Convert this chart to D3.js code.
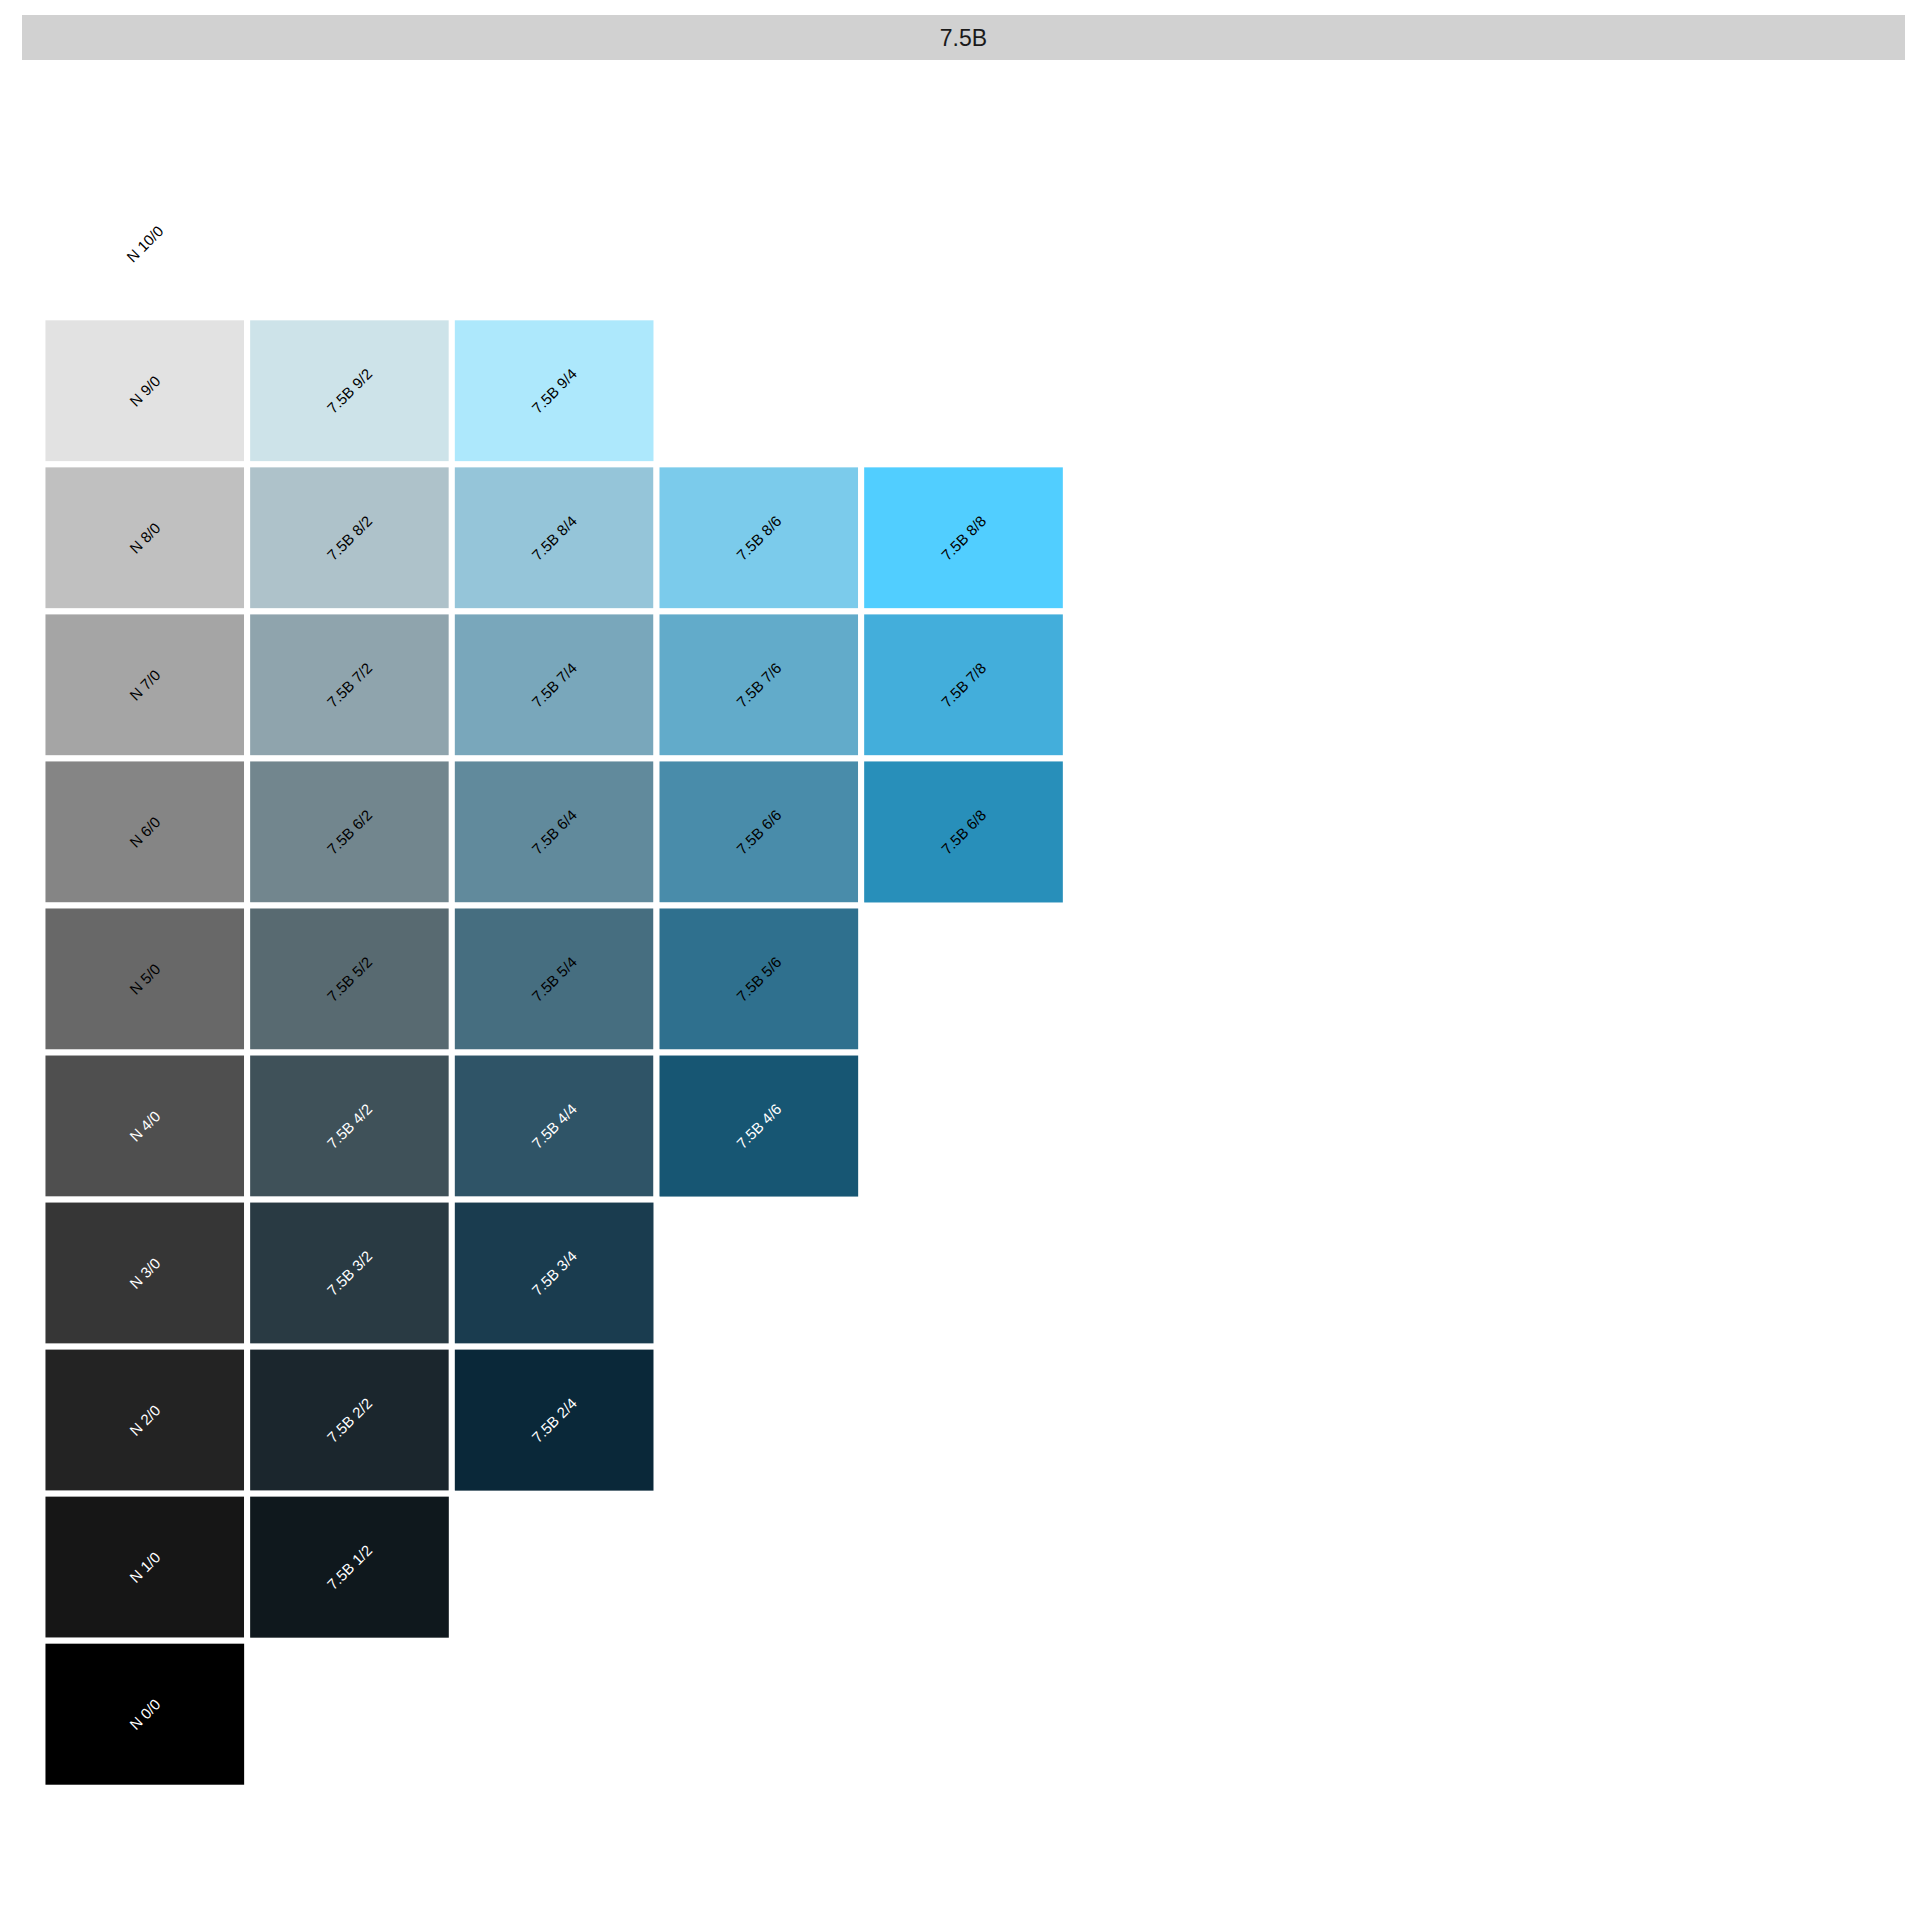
<!DOCTYPE html>
<html>
<head>
<meta charset="utf-8">
<script src="https://cdn.jsdelivr.net/npm/d3@7"></script>
<style>
  html, body { margin: 0; padding: 0; background: #ffffff; }
  svg { display: block; }
</style>
</head>
<body>
<svg id="chart" width="1920" height="1920"></svg>
<script>
// ---- data ----
const hueLabel = "7.5B";
const chromaLevels = [0, 2, 4, 6, 8, 10, 12, 14, 16];
const valueLevels = [10, 9, 8, 7, 6, 5, 4, 3, 2, 1, 0];

const swatchValues  = [10, 9, 9, 9, 8, 8, 8, 8, 8, 7, 7, 7, 7, 7, 6, 6, 6, 6, 6, 5, 5, 5, 5, 4, 4, 4, 4, 3, 3, 3, 2, 2, 2, 1, 1, 0];
const swatchChromas = [0, 0, 2, 4, 0, 2, 4, 6, 8, 0, 2, 4, 6, 8, 0, 2, 4, 6, 8, 0, 2, 4, 6, 0, 2, 4, 6, 0, 2, 4, 0, 2, 4, 0, 2, 0];
const swatchColors  = [
  "#FFFFFF",
  "#E2E2E2", "#CDE3E9", "#ADE8FC",
  "#C0C0C0", "#AEC2CA", "#95C5D9", "#7BCBEB", "#51CEFF",
  "#A5A5A5", "#8FA4AD", "#79A7BB", "#62ABCA", "#43AEDB",
  "#858585", "#72868E", "#618A9C", "#498CAA", "#288FBA",
  "#686868", "#586A71", "#466E80", "#2F708E",
  "#4F4F4F", "#3F5159", "#2F5467", "#175673",
  "#363636", "#293A43", "#1A3C4F",
  "#232323", "#1B262D", "#0A2839",
  "#161616", "#0F181D",
  "#000000"
];

const swatches = swatchValues.map((v, i) => ({
  value: v,
  chroma: swatchChromas[i],
  color: swatchColors[i],
  label: swatchChromas[i] === 0 ? `N ${v}/0` : `${hueLabel} ${v}/${swatchChromas[i]}`
}));

// ---- layout ----
const svg = d3.select("#chart");
const panel = { left: 22, right: 1905, top: 60, bottom: 1898 };
const strip = { top: 15, bottom: 60 };

const x = d3.scaleBand()
  .domain(chromaLevels)
  .range([panel.left, panel.right])
  .paddingInner(0)
  .paddingOuter(0.1);

const y = d3.scaleBand()
  .domain(valueLevels)
  .range([panel.top, panel.bottom])
  .paddingInner(0)
  .paddingOuter(0.75);

// strip
svg.append("rect")
  .attr("x", panel.left).attr("y", strip.top)
  .attr("width", panel.right - panel.left)
  .attr("height", strip.bottom - strip.top)
  .attr("fill", "#D1D1D1");

svg.append("text")
  .attr("x", (panel.left + panel.right) / 2)
  .attr("y", (strip.top + strip.bottom) / 2)
  .attr("text-anchor", "middle")
  .attr("dominant-baseline", "central")
  .attr("font-family", "'Liberation Sans', Arial, sans-serif")
  .attr("font-size", 23)
  .attr("fill", "#1A1A1A")
  .text(hueLabel);

// tiles
const g = svg.append("g");
g.selectAll("rect.tile")
  .data(swatches)
  .join("rect")
  .attr("class", "tile")
  .attr("x", d => x(d.chroma))
  .attr("y", d => y(d.value))
  .attr("width", x.bandwidth())
  .attr("height", y.bandwidth())
  .attr("fill", d => d.color)
  .attr("stroke", "#FFFFFF")
  .attr("stroke-width", 6);

g.selectAll("text.lab")
  .data(swatches)
  .join("text")
  .attr("class", "lab")
  .attr("transform", d => {
    const cx = x(d.chroma) + x.bandwidth() / 2;
    const cy = y(d.value) + y.bandwidth() / 2;
    return `translate(${cx},${cy}) rotate(-45)`;
  })
  .attr("text-anchor", "middle")
  .attr("dominant-baseline", "central")
  .attr("font-family", "'Liberation Sans', Arial, sans-serif")
  .attr("font-size", 15)
  .attr("fill", d => d.value <= 4 ? "#FFFFFF" : "#000000")
  .text(d => d.label);
</script>
</body>
</html>
